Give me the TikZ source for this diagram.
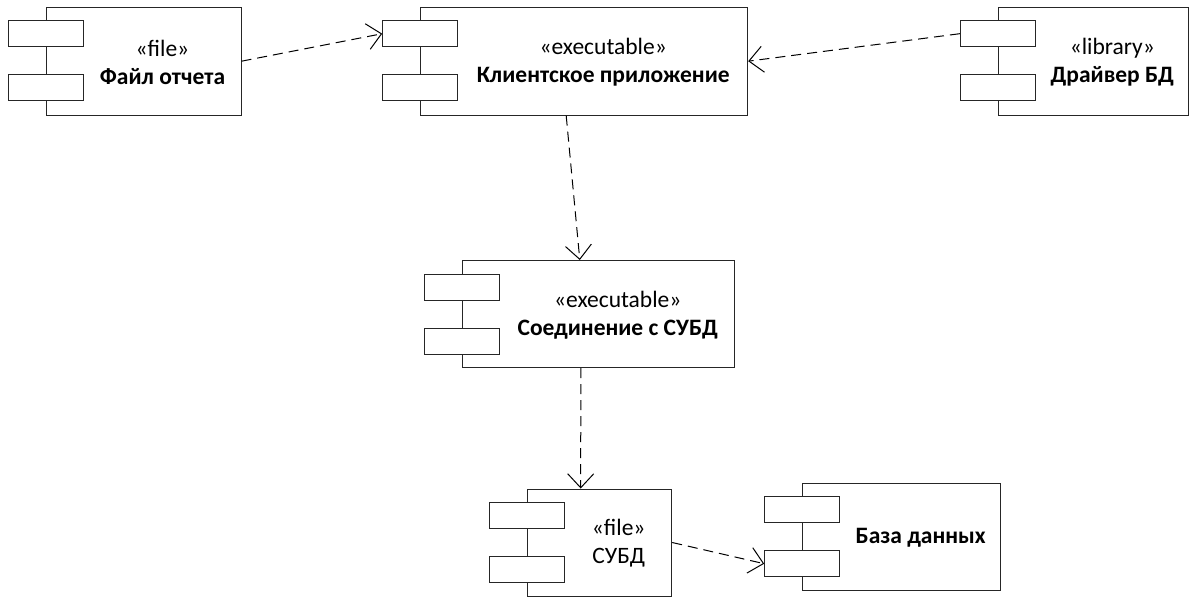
\documentclass[tikz,border=0pt]{standalone}
\usepackage{fontspec}
\setmainfont{Carlito}
\usetikzlibrary{arrows.meta,calc}
\tikzset{
  mainbox/.style={draw=black!85, line width=1pt, fill=white, inner sep=0pt},
  port/.style={draw=black!85, line width=1pt, fill=white, minimum width=75pt, minimum height=26pt, inner sep=0pt},
  label/.style={align=center, font=\fontsize{23.5pt}{28pt}\selectfont, inner sep=0pt},
  dep/.style={draw=black, line width=1pt, dash pattern=on 10pt off 6pt, -{Straight Barb[length=14pt,width=26pt,line width=1pt]}}
}
\newcommand{\comp}[6]{%
  \node[mainbox, minimum width=#4pt, minimum height=#5pt] (#1) at (#2,#3) {};
  \node[port] (#1-p1) at ($(#1.north west)+(0,27)$) {};
  \node[port] (#1-p2) at ($(#1.north west)+(0,81)$) {};
  \node[label] (#1-t) at ($(#1-p1.east |- #1.center)!0.5!(#1.east)+(0,1)$) {#6};
}
\begin{document}
\begin{tikzpicture}[x=1pt,y=-1pt]
\useasboundingbox (0,0) rectangle (1192,597);
\comp{f}{143.5}{61.2}{195}{108}{«file»\\\textbf{Файл отчета}}
\comp{cl}{584.2}{61.2}{327}{108}{«executable»\\\textbf{Клиентское приложение}}
\comp{drv}{1093.3}{61.2}{190}{108}{«library»\\\textbf{Драйвер БД}}
\comp{conn}{598.8}{314}{272}{107}{«executable»\\\textbf{Соединение с СУБД}}
\comp{subd}{599.7}{542.5}{144}{107}{«file»\\СУБД}
\comp{db}{901.7}{536.7}{198}{107}{\textbf{База данных}}
\draw[dep] (f.east) -- (cl-p1.west);
\draw[dep] (drv-p1.west) -- (cl.east);
\draw[dep] ([xshift=-18pt]cl.south) -- ([xshift=-19pt]conn.north);
\draw[dep] ([xshift=-18pt]conn.south) -- ([xshift=-19pt]subd.north);
\draw[dep] (subd.east) -- (db-p2.west);
\end{tikzpicture}
\end{document}
